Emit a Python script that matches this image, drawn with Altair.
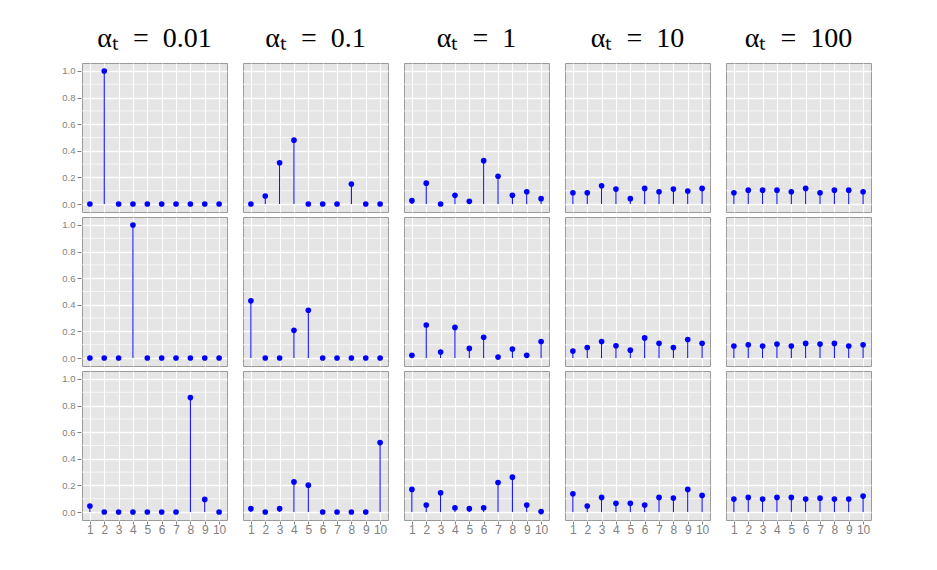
import altair as alt
import pandas as pd

alphas = ["0.01", "0.1", "1", "10", "100"]
positions = [1, 2, 3, 4, 5, 6, 7, 8, 9, 10]

# probabilities per sample row; one list of 10 values per alpha column
row1 = [
    [0, 1.0, 0, 0, 0, 0, 0, 0, 0, 0],
    [0, 0.06, 0.31, 0.48, 0, 0, 0, 0.15, 0, 0],
    [0.025, 0.157, 0.0, 0.065, 0.02, 0.326, 0.209, 0.065, 0.092, 0.04],
    [0.085, 0.085, 0.137, 0.112, 0.04, 0.117, 0.092, 0.112, 0.097, 0.117],
    [0.085, 0.104, 0.104, 0.104, 0.092, 0.117, 0.085, 0.104, 0.104, 0.092],
]
row2 = [
    [0, 0, 0, 1.0, 0, 0, 0, 0, 0, 0],
    [0.43, 0, 0, 0.208, 0.359, 0, 0, 0, 0, 0],
    [0.02, 0.248, 0.045, 0.23, 0.072, 0.156, 0.007, 0.067, 0.02, 0.124],
    [0.052, 0.079, 0.124, 0.092, 0.059, 0.151, 0.111, 0.079, 0.139, 0.111],
    [0.09, 0.1, 0.09, 0.105, 0.09, 0.11, 0.105, 0.11, 0.09, 0.1],
]
row3 = [
    [0.045, 0, 0, 0, 0, 0, 0, 0.86, 0.095, 0],
    [0.025, 0, 0.025, 0.226, 0.202, 0, 0, 0, 0, 0.522],
    [0.17, 0.052, 0.145, 0.032, 0.025, 0.032, 0.222, 0.262, 0.052, 0.003],
    [0.137, 0.045, 0.11, 0.065, 0.065, 0.052, 0.11, 0.105, 0.17, 0.125],
    [0.097, 0.11, 0.097, 0.11, 0.11, 0.097, 0.104, 0.097, 0.097, 0.12],
]
rows = [row1, row2, row3]

y_major = [0.0, 0.2, 0.4, 0.6, 0.8, 1.0]
y_minor = [0.1, 0.3, 0.5, 0.7, 0.9]

records = []
for r, row in enumerate(rows):
    for c, vals in enumerate(row):
        for p, v in zip(positions, vals):
            records.append({"sample": r + 1, "alpha": c, "pos": p, "prob": v, "zero": 0.0})
        for m in y_minor:
            records.append({"sample": r + 1, "alpha": c, "m": m})
df_all = pd.DataFrame(records)

label_expr = "[" + ",".join("'αₜ\u2002=\u2002" + a + "'" for a in alphas) + "][datum.value]"

xscale = alt.Scale(domain=[0.45, 10.55], nice=False, zero=False)
yscale = alt.Scale(domain=[-0.06, 1.06], nice=False, zero=False)

xaxis = alt.Axis(values=positions, title=None, labelFontSize=12, labelColor="#7F7F7F",
                 tickColor="#7F7F7F", tickSize=3, domain=False, grid=True,
                 gridColor="white", gridWidth=1.1, labelPadding=0)
yaxis = alt.Axis(values=y_major, format=".1f", title=None, labelFontSize=9.5,
                 labelColor="#7F7F7F", tickColor="#7F7F7F", tickSize=4, domain=False,
                 grid=True, gridColor="white", gridWidth=1.6, labelPadding=2)

b = alt.Chart()
minor_l = b.mark_rule(color="white", strokeWidth=0.7).encode(
    y=alt.Y("m:Q", scale=yscale, axis=yaxis)).transform_filter("isValid(datum.m)")
stems_l = b.mark_rule(color="#0000FF", strokeWidth=1).encode(
    x=alt.X("pos:Q", scale=xscale, axis=xaxis),
    y=alt.Y("zero:Q", scale=yscale, axis=yaxis),
    y2="prob:Q",
).transform_filter("isValid(datum.pos)")
dots_l = b.mark_circle(color="#0000FF", size=32, opacity=1).encode(
    x=alt.X("pos:Q", scale=xscale, axis=xaxis),
    y=alt.Y("prob:Q", scale=yscale, axis=yaxis),
).transform_filter("isValid(datum.pos)")

chart = alt.layer(minor_l, stems_l, dots_l, data=df_all).properties(
    width=145, height=149
).facet(
    row=alt.Row("sample:O", header=alt.Header(labels=False, title=None)),
    column=alt.Column("alpha:O", header=alt.Header(
        title=None, labelExpr=label_expr, labelFontSize=28, labelFont="Liberation Serif",
        labelColor="black", labelPadding=9)),
    spacing={"row": 3, "column": 14},
).properties(
    padding={"left": 53, "top": 17, "right": 5, "bottom": 5},
    background="white",
).configure_view(
    fill="#E5E5E5", stroke="#9A9A9A", strokeWidth=1
).configure_axis(
    labelFont="Liberation Sans"
)

chart.save("out.html", embed_options={"renderer": "svg", "actions": False})
